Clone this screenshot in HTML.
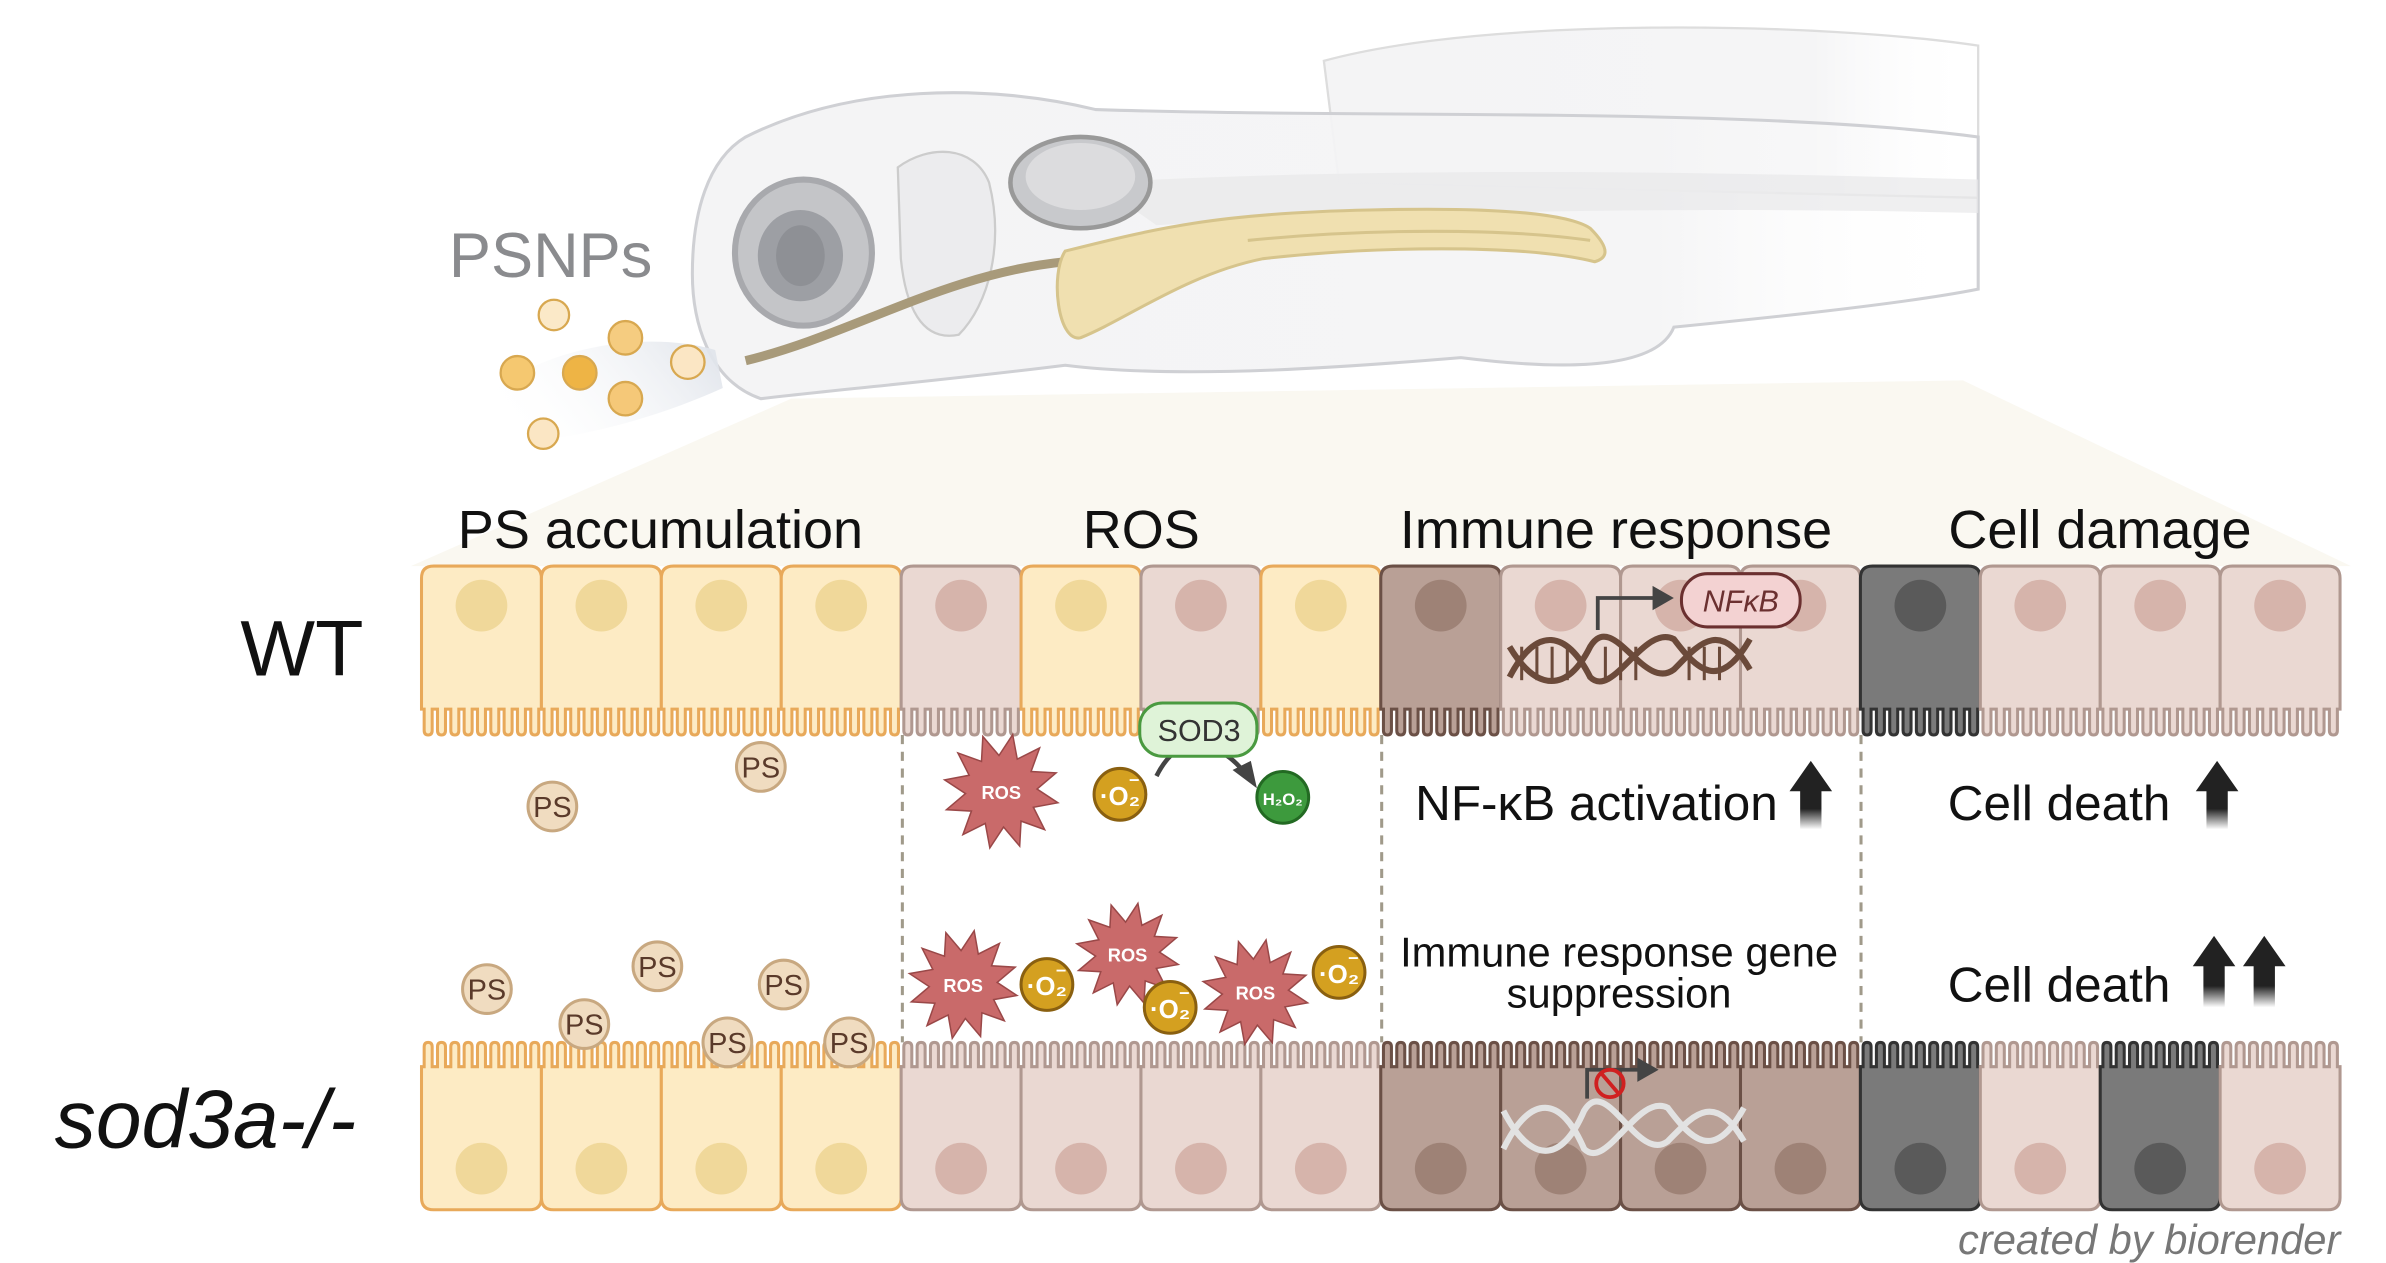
<!DOCTYPE html>
<html><head><meta charset="utf-8">
<style>
html,body{margin:0;padding:0;background:#fff;}
svg{display:block;}
text{font-family:"Liberation Sans",sans-serif;}
</style></head>
<body>
<svg id="s" width="2386" height="1263" viewBox="0 0 1568 830" preserveAspectRatio="none" xmlns="http://www.w3.org/2000/svg">
<defs>
<linearGradient id="fade" x1="0" x2="1" y1="0" y2="0">
<stop offset="0" stop-color="#f4f4f5" stop-opacity="1"/>
<stop offset="0.75" stop-color="#f4f4f5" stop-opacity="0.9"/>
<stop offset="1" stop-color="#fff" stop-opacity="0"/>
</linearGradient>
<linearGradient id="arr" x1="0" x2="0" y1="0" y2="1">
<stop offset="0" stop-color="#222"/><stop offset="0.7" stop-color="#222"/><stop offset="1" stop-color="#222" stop-opacity="0"/>
</linearGradient>
<linearGradient id="stream" x1="1" x2="0" y1="0" y2="0.3">
<stop offset="0" stop-color="#dfe3ea"/><stop offset="1" stop-color="#fff" stop-opacity="0"/>
</linearGradient>
</defs>
<polygon points="520,262 1290,250 1545,372 270,372" fill="#faf8f1"/>
<path d="M870,40 C980,10 1200,15 1300,30 L1300,130 L880,120 Z" fill="url(#fade)" stroke="#ddd" stroke-width="1.5"/>
<path d="M490,90 C560,55 650,55 720,72 C900,78 1150,70 1300,90 L1300,190 C1250,200 1150,210 1100,215 C1090,240 1040,245 960,235 C900,240 780,250 700,240 C620,250 560,255 500,262 C465,250 455,210 455,180 C455,140 465,105 490,90 Z" fill="url(#fade)" stroke="#cfd0d4" stroke-width="2"/>
<path d="M720,120 C900,110 1100,112 1300,118 L1300,140 C1100,135 900,140 760,148 Z" fill="#e8e8ea" opacity="0.7"/>
<path d="M590,110 C610,95 640,95 650,120 C660,160 650,200 630,220 C605,225 595,200 592,170 Z" fill="#ececee" stroke="#ccc" stroke-width="1.5"/>
<ellipse cx="710" cy="120" rx="46" ry="30" fill="#c8c9cc" stroke="#999" stroke-width="3"/>
<ellipse cx="710" cy="116" rx="36" ry="22" fill="#dcdcde"/>
<ellipse cx="528" cy="166" rx="45" ry="48" fill="#c4c5c8" stroke="#a8a9ad" stroke-width="4"/>
<ellipse cx="526" cy="168" rx="28" ry="30" fill="#9d9fa4"/>
<ellipse cx="526" cy="168" rx="16" ry="20" fill="#8e9095"/>
<path d="M490,237 C560,220 620,180 700,172" fill="none" stroke="#a89a7a" stroke-width="6"/>
<path d="M700,165 C760,150 800,140 900,138 C980,136 1030,140 1045,150 C1060,165 1055,170 1048,172 C1000,160 900,162 830,170 C780,180 740,210 710,222 C695,225 690,180 700,165 Z" fill="#f0e0b0" stroke="#d6c48c" stroke-width="2"/>
<path d="M820,158 C900,150 990,150 1045,158" fill="none" stroke="#d6c48c" stroke-width="2"/>
<path d="M300,285 C330,230 420,215 470,230 L475,255 C420,280 340,300 300,285 Z" fill="url(#stream)"/>
<text x="295" y="182" font-size="41.5" fill="#8a8b8e">PSNPs</text>
<g stroke="#d8a850" stroke-width="1.5">
<circle cx="364" cy="207" r="10" fill="#fbe9c8"/>
<circle cx="411" cy="222" r="11" fill="#f5cc80"/>
<circle cx="340" cy="245" r="11" fill="#f5c870"/>
<circle cx="381" cy="245" r="11" fill="#eeb445"/>
<circle cx="411" cy="262" r="11" fill="#f5c878"/>
<circle cx="452" cy="238" r="11" fill="#fbe6c4"/>
<circle cx="357" cy="285" r="10" fill="#fbe6c4"/>
</g>
<g font-size="35.5" fill="#111" text-anchor="middle">
<text x="434" y="360">PS accumulation</text>
<text x="750" y="360">ROS</text>
<text x="1062" y="360">Immune response</text>
<text x="1380" y="360">Cell damage</text>
</g>
<text x="158" y="444" font-size="52" fill="#111">WT</text>
<text x="36" y="754" font-size="54" font-style="italic" fill="#111">sod3a-/-</text>
<g id="cells"></g>
<g stroke="#a09a8a" stroke-width="2" stroke-dasharray="6,5">
<line x1="593" y1="483" x2="593" y2="685"/>
<line x1="908" y1="483" x2="908" y2="685"/>
<line x1="1223" y1="483" x2="1223" y2="685"/>
</g>
<g fill="none" stroke="#6b4a3a" stroke-width="4">
<path d="M992,425 C1010,455 1030,455 1045,425 C1060,400 1080,455 1100,440 C1115,425 1130,405 1150,440"/>
<path d="M992,445 C1010,410 1030,415 1045,445 C1060,460 1080,410 1100,420 C1115,440 1130,455 1150,420"/>
</g>
<g stroke="#6b4a3a" stroke-width="2">
<line x1="1000" y1="425" x2="1000" y2="447"/><line x1="1010" y1="425" x2="1010" y2="447"/><line x1="1020" y1="425" x2="1020" y2="447"/><line x1="1030" y1="425" x2="1030" y2="447"/><line x1="1055" y1="425" x2="1055" y2="447"/><line x1="1065" y1="425" x2="1065" y2="447"/><line x1="1075" y1="425" x2="1075" y2="447"/><line x1="1110" y1="425" x2="1110" y2="447"/><line x1="1120" y1="425" x2="1120" y2="447"/><line x1="1130" y1="425" x2="1130" y2="447"/>
</g>
<path d="M1050,414 V393 H1088" fill="none" stroke="#444" stroke-width="2.5"/>
<polygon points="1086,385 1100,393 1086,401" fill="#444"/>
<rect x="1105" y="377" width="78" height="35" rx="17" fill="#f3d2d2" stroke="#6b3030" stroke-width="2"/>
<text x="1144" y="402" font-size="20" font-style="italic" text-anchor="middle" fill="#6b3030">NFκB</text>
<g fill="none" stroke="#e2e2e2" stroke-width="4">
<path d="M988,730 C1006,765 1026,765 1041,730 C1056,705 1076,765 1096,750 C1111,735 1126,715 1146,750"/>
<path d="M988,755 C1006,718 1026,720 1041,755 C1056,770 1076,718 1096,728 C1111,748 1126,765 1146,728"/>
</g>
<path d="M1043,722 V703 H1078" fill="none" stroke="#444" stroke-width="2.5"/>
<polygon points="1076,695 1090,703 1076,711" fill="#444"/>
<circle cx="1058" cy="712" r="9" fill="none" stroke="#d02020" stroke-width="2.5"/>
<line x1="1052" y1="705" x2="1064" y2="719" stroke="#d02020" stroke-width="2.5"/>
<path d="M760,510 C765,500 772,492 780,490" fill="none" stroke="#444" stroke-width="3"/>
<path d="M795,490 C805,495 812,500 818,508" fill="none" stroke="#444" stroke-width="3"/>
<polygon points="810,506 826,518 822,500" fill="#444"/>
<rect x="749" y="462" width="77" height="35" rx="15" fill="#dff3d8" stroke="#4a9a40" stroke-width="2"/>
<text x="788" y="487" font-size="20" text-anchor="middle" fill="#333">SOD3</text>
<circle cx="843" cy="524" r="17" fill="#3d9a3d" stroke="#236a23" stroke-width="2"/>
<text x="843" y="529" font-size="11" font-weight="bold" text-anchor="middle" fill="#fff">H₂O₂</text>
<g id="objs"></g>
<g font-size="32.5" fill="#111">
<text x="930" y="539">NF-κB activation</text>
<text x="1280" y="539">Cell death</text>
<text x="1280" y="658">Cell death</text>
</g>
<g font-size="27.4" fill="#111" text-anchor="middle">
<text x="1064" y="635">Immune response gene</text>
<text x="1064" y="662">suppression</text>
</g>
<g fill="url(#arr)">
<path d="M1190,500 L1204,520 L1197,520 L1197,545 L1183,545 L1183,520 L1176,520 Z"/>
<path d="M1457,500 L1471,520 L1464,520 L1464,545 L1450,545 L1450,520 L1443,520 Z"/>
<path d="M1455,615 L1469,635 L1462,635 L1462,662 L1448,662 L1448,635 L1441,635 Z"/>
<path d="M1488,615 L1502,635 L1495,635 L1495,662 L1481,662 L1481,635 L1474,635 Z"/>
</g>
<text x="1538" y="824" font-size="27.4" font-style="italic" text-anchor="end" fill="#777">created by biorender</text>
</svg>
<script>
(function(){
var C={y:["#fdebc4","#e8a95a","#f0d89a"],p:["#ead8d2","#b09890","#d6b4ab"],b:["#b9a096","#6b5046","#9e8276"],g:["#7a7a7a","#333","#5a5a5a"]};
var rowTop="yyyypypybpppgppp".split("");
var rowBot="yyyyppppbbbbgpgp".split("");
var x0=277,w=78.8,h="";
function cell(x,t,isTop){
 var c=C[t],n=9,fw=w/n,d="",i,a,b;
 if(isTop){
  var y1=372,yb=466,ye=483;
  d="M"+x+","+yb+" L"+x+","+(y1+8)+" Q"+x+","+y1+" "+(x+8)+","+y1+" L"+(x+w-8)+","+y1+" Q"+(x+w)+","+y1+" "+(x+w)+","+(y1+8)+" L"+(x+w)+","+yb;
  for(i=n-1;i>=0;i--){a=x+i*fw+fw*0.8;b=x+i*fw+fw*0.2;
   d+=" L"+a+","+yb+" L"+a+","+(ye-3)+" Q"+a+","+ye+" "+((a+b)/2)+","+ye+" Q"+b+","+ye+" "+b+","+(ye-3)+" L"+b+","+yb;}
  d+=" Z";
  h+='<path d="'+d+'" fill="'+c[0]+'" stroke="'+c[1]+'" stroke-width="2"/>';
  h+='<circle cx="'+(x+w/2)+'" cy="398" r="17" fill="'+c[2]+'"/>';
 }else{
  var ys=685,yt=701,y2=795;
  d="M"+x+","+yt;
  for(i=0;i<n;i++){a=x+i*fw+fw*0.2;b=x+i*fw+fw*0.8;
   d+=" L"+a+","+yt+" L"+a+","+(ys+3)+" Q"+a+","+ys+" "+((a+b)/2)+","+ys+" Q"+b+","+ys+" "+b+","+(ys+3)+" L"+b+","+yt;}
  d+=" L"+(x+w)+","+yt+" L"+(x+w)+","+(y2-8)+" Q"+(x+w)+","+y2+" "+(x+w-8)+","+y2+" L"+(x+8)+","+y2+" Q"+x+","+y2+" "+x+","+(y2-8)+" Z";
  h+='<path d="'+d+'" fill="'+c[0]+'" stroke="'+c[1]+'" stroke-width="2"/>';
  h+='<circle cx="'+(x+w/2)+'" cy="768" r="17" fill="'+c[2]+'"/>';
 }
}
for(var k=0;k<16;k++){cell(x0+k*w,rowTop[k],true);cell(x0+k*w,rowBot[k],false);}
document.getElementById("cells").innerHTML=h;
var o="";
function ps(x,y){o+='<circle cx="'+x+'" cy="'+y+'" r="16" fill="#f0dcc0" stroke="#c8a880" stroke-width="2"/><text x="'+x+'" y="'+(y+7)+'" font-size="19" text-anchor="middle" fill="#5a3a2a">PS</text>';}
[[363,530],[500,504],[320,650],[432,635],[384,673],[515,647],[478,685],[558,685]].forEach(function(p){ps(p[0],p[1]);});
function star(x,y,r){var pts=[];for(var i=0;i<24;i++){var rr=i%2?r*0.62:r;var a=i*Math.PI/12-Math.PI/2+0.2;pts.push((x+rr*Math.cos(a)).toFixed(1)+","+(y+rr*Math.sin(a)).toFixed(1));}
o+='<polygon points="'+pts.join(" ")+'" fill="#c96a6a" stroke="#9a4848" stroke-width="1"/><text x="'+x+'" y="'+(y+5)+'" font-size="12" font-weight="bold" text-anchor="middle" fill="#fff">ROS</text>';}
star(658,520,38);star(633,647,36);star(741,627,34);star(825,652,35);
function o2(x,y){o+='<circle cx="'+x+'" cy="'+y+'" r="17" fill="#d4a020" stroke="#8a6010" stroke-width="2"/><text x="'+x+'" y="'+(y+7)+'" font-size="17" font-weight="bold" text-anchor="middle" fill="#fff">·O₂</text><text x="'+(x+6)+'" y="'+(y-6)+'" font-size="12" font-weight="bold" fill="#fff">–</text>';}
o2(736,522);o2(688,647);o2(769,662);o2(880,639);
document.getElementById("objs").innerHTML=o;
})();
</script>
</body></html>
